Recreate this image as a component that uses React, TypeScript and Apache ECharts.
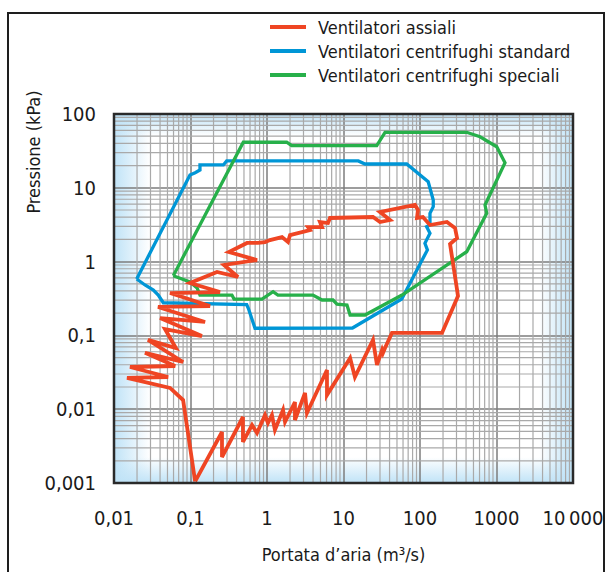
import React, { useEffect, useRef } from 'react';
import * as echarts from 'echarts';

const xTickLabels = ['0,01', '0,1', '1', '10', '100', '1000', '10\u2009000'];
const yTickLabels = ['0,001', '0,01', '0,1', '1', '10', '100'];
const xDecades = [0.01, 0.1, 1, 10, 100, 1000];
const yDecades = [0.001, 0.01, 0.1, 1, 10];
const minorSteps = [2, 3, 4, 5, 6, 7, 8, 9];

const seriesNames = [
  'Ventilatori assiali',
  'Ventilatori centrifughi standard',
  'Ventilatori centrifughi speciali',
];

// [portata m3/s, pressione kPa]
const assiali: [number, number][] = [
  [0.115, 0.00105], [0.08, 0.0133], [0.054, 0.0194], [0.0148, 0.0265], [0.051, 0.0273],
  [0.0162, 0.0373], [0.063, 0.0385], [0.0254, 0.058], [0.08, 0.0436], [0.0278, 0.087],
  [0.0645, 0.0675], [0.0464, 0.122], [0.141, 0.098], [0.04, 0.172], [0.155, 0.152],
  [0.0376, 0.243], [0.18, 0.25], [0.054, 0.375], [0.243, 0.387], [0.0985, 0.513],
  [0.222, 0.723], [0.418, 0.618], [0.274, 0.9], [0.74, 1.05], [0.318, 1.35],
  [0.548, 1.79], [0.762, 1.79], [0.942, 1.84], [1.094, 1.96], [1.57, 2.15],
  [1.88, 1.84], [2.0, 2.29], [3.65, 2.68], [3.44, 2.94], [5.24, 2.94],
  [4.93, 3.44], [6.27, 3.33], [6.66, 3.9], [24.3, 4.02], [30, 3.44],
  [40.5, 3.66], [30, 4.7], [86, 5.85], [94.2, 5.0], [91.4, 3.9],
  [109, 4.02], [135, 3.13], [225, 3.44], [287, 2.85], [305, 2.09],
  [247, 1.73], [314, 0.342], [194, 0.108], [43, 0.108], [34.9, 0.0675],
  [32.8, 0.0578], [31.9, 0.0634], [27.4, 0.0397], [24.3, 0.0867], [14.1, 0.0273],
  [12.2, 0.0494], [6.08, 0.01557], [6.08, 0.034], [3.33, 0.00889], [3.14, 0.0166],
  [2.32, 0.00714], [2.32, 0.01253], [1.72, 0.00671], [1.62, 0.00975], [1.27, 0.00523],
  [1.16, 0.00834], [1.03, 0.0065], [0.942, 0.00834], [0.74, 0.00476], [0.637, 0.00611],
  [0.485, 0.0036], [0.485, 0.00784], [0.258, 0.00225], [0.258, 0.00491], [0.115, 0.00105],
];

const centrifughiStandard: [number, number][] = [
  [0.0198, 0.581], [0.0984, 14.9], [0.115, 16.0], [0.133, 17.4], [0.133, 20.4],
  [0.269, 20.4], [0.297, 23.1], [15.6, 23.1], [19.1, 21.0], [67, 21.0],
  [128, 12.1], [149, 6.83], [149, 5.54], [135, 4.51], [135, 3.13],
  [122, 2.97], [135, 2.42], [116, 1.77], [125, 1.44], [57.7, 0.311],
  [13.1, 0.126], [0.697, 0.125], [0.57, 0.233], [0.543, 0.262], [0.0441, 0.277],
  [0.0379, 0.352], [0.0327, 0.412], [0.0254, 0.482], [0.0198, 0.581],
];

const centrifughiSpeciali: [number, number][] = [
  [0.0596, 0.644], [0.49, 41.4], [1.81, 41.4], [2.1, 37.2], [27.2, 37.2],
  [34.9, 56.5], [408, 56.5], [609, 49.2], [1007, 36.0], [1291, 21.9],
  [708, 5.85], [745, 4.51], [408, 1.36], [58.2, 0.352], [19.1, 0.189],
  [12.2, 0.189], [11.1, 0.258], [8.22, 0.266], [7.29, 0.302], [5.24, 0.302],
  [3.99, 0.352], [1.39, 0.352], [1.2, 0.391], [0.861, 0.311], [0.371, 0.311],
  [0.348, 0.352], [0.133, 0.352], [0.122, 0.439], [0.0984, 0.53], [0.0596, 0.644],
];

const colors = ['#ef4523', '#0096d6', '#27b04a'];
const widths = [3.8, 3.3, 3.3];
const FONT = '"DejaVu Sans Condensed", "Liberation Sans Narrow", "Liberation Sans", sans-serif';

const xMinor = xDecades.flatMap((d) => minorSteps.map((k) => d * k));
const yMinor = yDecades.flatMap((d) => minorSteps.map((k) => d * k));

export default function App() {
  const ref = useRef<HTMLDivElement>(null);
  useEffect(() => {
    if (!ref.current) return;
    const chart = echarts.init(ref.current, undefined, { renderer: 'svg' });
    const gridStyle = { stroke: '#a9a9a9', lineWidth: 1.2 };
    const L = 114, T = 114, W = 459, H = 369;
    const edge = 'rgba(192,227,247,1)';
    const edge0 = 'rgba(192,227,247,0)';
    chart.setOption({
      animation: false,
      textStyle: { fontFamily: FONT },
      grid: { left: L, top: T, width: W, height: H, show: false },
      legend: {
        data: seriesNames,
        orient: 'vertical',
        left: 265,
        top: 12,
        icon: 'rect',
        itemWidth: 36,
        itemHeight: 4,
        itemGap: 4,
        textStyle: { fontFamily: FONT, fontSize: 18, color: '#1a1a1a', lineHeight: 20, padding: [0, 0, 0, 7] },
      },
      xAxis: {
        type: 'log',
        logBase: 10,
        min: 0.01,
        max: 10000,
        splitNumber: 6,
        name: 'Portata d\u2019aria (m\u00b3/s)',
        nameLocation: 'middle',
        nameGap: 62,
        nameTextStyle: { fontFamily: FONT, fontSize: 18, color: '#1a1a1a' },
        axisLine: { show: false },
        axisTick: { show: false },
        axisLabel: {
          margin: 25,
          fontFamily: FONT,
          fontSize: 20,
          color: '#1a1a1a',
          showMinLabel: true,
          showMaxLabel: true,
          formatter: (v: number) => xTickLabels[Math.round(Math.log10(v)) + 2] ?? '',
        },
        splitLine: { show: true, lineStyle: { color: '#7c7c7c', width: 1.5 } },
      },
      yAxis: {
        type: 'log',
        logBase: 10,
        min: 0.001,
        max: 100,
        splitNumber: 5,
        axisLine: { show: false },
        axisTick: { show: false },
        axisLabel: {
          margin: 18,
          fontFamily: FONT,
          fontSize: 20,
          color: '#1a1a1a',
          showMinLabel: true,
          showMaxLabel: true,
          formatter: (v: number) => yTickLabels[Math.round(Math.log10(v)) + 3] ?? '',
        },
        splitLine: { show: true, lineStyle: { color: '#7c7c7c', width: 1.5 } },
      },
      graphic: [
        { type: 'rect', z: -10, shape: { x: L, y: T, width: 36, height: H },
          style: { fill: { type: 'linear', x: 0, y: 0, x2: 1, y2: 0, colorStops: [{ offset: 0, color: edge }, { offset: 1, color: edge0 }] } } },
        { type: 'rect', z: -10, shape: { x: L + W - 34, y: T, width: 34, height: H },
          style: { fill: { type: 'linear', x: 0, y: 0, x2: 1, y2: 0, colorStops: [{ offset: 0, color: edge0 }, { offset: 1, color: edge }] } } },
        { type: 'rect', z: -10, shape: { x: L, y: T, width: W, height: 22 },
          style: { fill: { type: 'linear', x: 0, y: 0, x2: 0, y2: 1, colorStops: [{ offset: 0, color: edge }, { offset: 1, color: edge0 }] } } },
        { type: 'rect', z: -10, shape: { x: L, y: T + H - 26, width: W, height: 26 },
          style: { fill: { type: 'linear', x: 0, y: 0, x2: 0, y2: 1, colorStops: [{ offset: 0, color: edge0 }, { offset: 1, color: edge }] } } },
        { type: 'rect', z: 100, shape: { x: L, y: T, width: W, height: H },
          style: { fill: 'none', stroke: '#2a2a2a', lineWidth: 2.5 } },
        { type: 'rect', z: 100, shape: { x: 8, y: 13, width: 596, height: 620 },
          style: { fill: 'none', stroke: '#1e1e1e', lineWidth: 2 } },
        { type: 'text', z: 100, x: 33, y: 152, rotation: Math.PI / 2,
          style: { text: 'Pressione (kPa)', fontFamily: FONT, fontSize: 18, fill: '#1a1a1a', align: 'center', verticalAlign: 'middle' } },
      ],
      series: [
        {
          type: 'custom', silent: true, z: 1,
          data: xMinor.map((v) => [v, 1]),
          renderItem: (_p: any, api: any) => {
            const a = api.coord([api.value(0), 100]);
            const b = api.coord([api.value(0), 0.001]);
            return { type: 'line', shape: { x1: a[0], y1: a[1], x2: b[0], y2: b[1] }, style: gridStyle };
          },
        },
        {
          type: 'custom', silent: true, z: 1,
          data: yMinor.map((v) => [1, v]),
          renderItem: (_p: any, api: any) => {
            const a = api.coord([0.01, api.value(1)]);
            const b = api.coord([10000, api.value(1)]);
            return { type: 'line', shape: { x1: a[0], y1: a[1], x2: b[0], y2: b[1] }, style: gridStyle };
          },
        },
        ...[assiali, centrifughiStandard, centrifughiSpeciali].map((d, i) => ({
          name: seriesNames[i],
          type: 'line',
          data: d,
          symbol: 'none',
          showSymbol: false,
          z: 5 + (i === 0 ? 2 : i === 1 ? 0 : 1),
          color: colors[i],
          lineStyle: { color: colors[i], width: widths[i], join: 'miter' },
        })),
      ],
    });
    return () => chart.dispose();
  }, []);
  return <div ref={ref} style={{ position: 'absolute', left: 0, top: 0, width: 609, height: 572 }} />;
}
